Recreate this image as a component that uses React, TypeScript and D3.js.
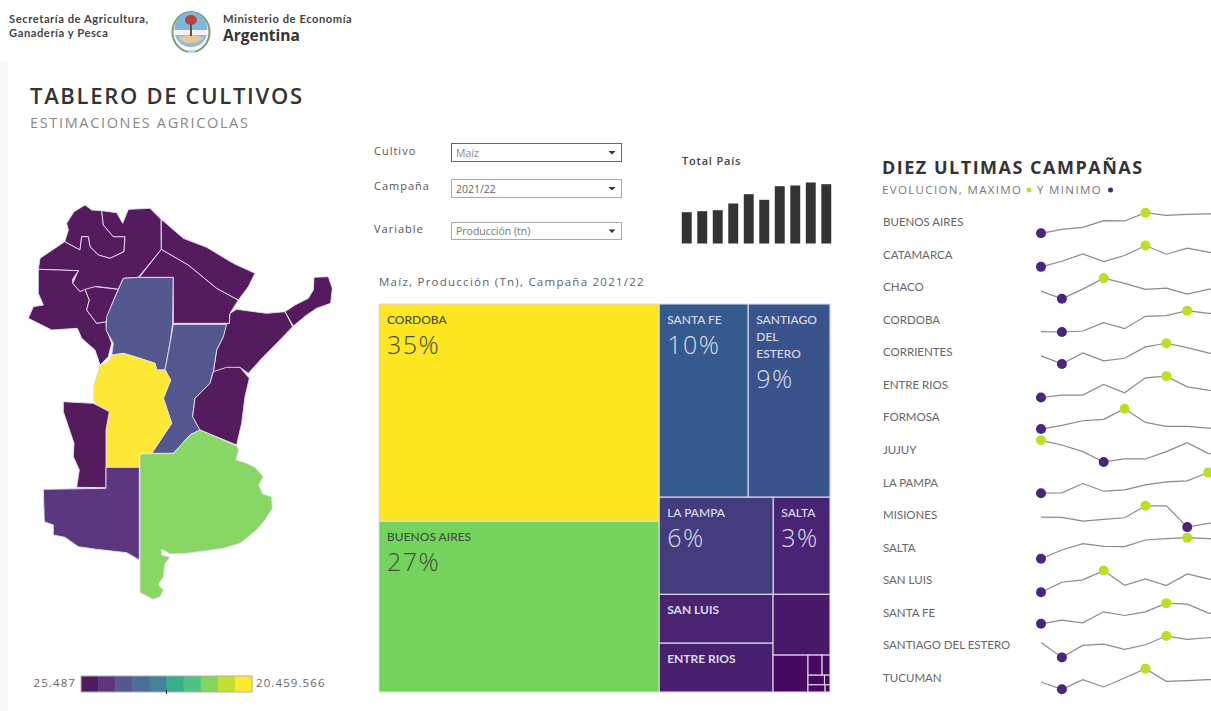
import React from "react";
import * as d3 from "d3";

// ---------- data ----------
const provinceNames = ["BUENOS AIRES","CATAMARCA","CHACO","CORDOBA","CORRIENTES","ENTRE RIOS","FORMOSA","JUJUY","LA PAMPA","MISIONES","SALTA","SAN LUIS","SANTA FE","SANTIAGO DEL ESTERO","TUCUMAN"];
const sparkBuenosAires = [6,18,24,44,43,68,60,63,64,64];
const sparkCatamarca = [3,20,42,19,37,67,41,59,47,42];
const sparkChaco = [28,5,34,67,51,33,37,19,33,41];
const sparkCordoba = [4,3,6,31,13,50,52,67,59,57];
const sparkCorrientes = [29,5,38,14,22,56,67,54,38,26];
const sparkEntreRios = [2,9,9,41,16,61,66,34,24,17];
const sparkFormosa = [5,16,30,34,66,25,13,13,8,7];
const sparkJujuy = [69,55,35,4,13,13,35,62,30,20];
const sparkLaPampa = [8,9,37,14,18,33,42,45,70,60];
const sparkMisiones = [34,33,22,27,32,68,68,4,15,20];
const sparkSalta = [7,33,52,44,43,63,67,70,67,67];
const sparkSanLuis = [4,34,41,69,25,44,24,59,44,36];
const sparkSantaFe = [7,18,10,43,32,43,69,66,40,30];
const sparkSantiago = [49,4,40,44,28,42,68,58,63,66];
const sparkTucuman = [28,6,35,13,40,68,30,32,35,37];
const sparkSeries = [sparkBuenosAires,sparkCatamarca,sparkChaco,sparkCordoba,sparkCorrientes,sparkEntreRios,sparkFormosa,sparkJujuy,sparkLaPampa,sparkMisiones,sparkSalta,sparkSanLuis,sparkSantaFe,sparkSantiago,sparkTucuman];

const totalPais = [31.3,32.3,33.3,40,49.3,43.7,57.3,58,61,59.3];

const legendColors = ["#4f1a5e","#5c357d","#565690","#4a6e97","#45829a","#38ae8f","#50c283","#84d45f","#bfe032","#fde92f"];

// map outlines, in map units
const mapProvinces: {name:string; color:string; pts:number[][]}[] = [
 {name:"Jujuy",color:"#541b5f",pts:[[255,45],[222,65],[200,100],[205,120],[194,155],[240,180],[245,140],[265,140],[270,170],[295,195],[330,205],[372,185],[375,140],[340,140],[310,105],[305,62],[275,60]]},
 {name:"Salta",color:"#541b5f",pts:[[305,62],[350,68],[368,100],[385,58],[450,55],[483,88],[484,178],[415,262],[370,265],[355,298],[320,293],[290,290],[262,298],[240,305],[218,280],[235,242],[115,238],[120,205],[194,155],[240,180],[245,140],[265,140],[270,170],[295,195],[330,205],[372,185],[375,140],[340,140],[310,105]]},
 {name:"Catamarca",color:"#541b5f",pts:[[115,238],[235,242],[218,268],[218,280],[240,305],[255,298],[268,330],[260,360],[290,400],[318,395],[320,420],[335,460],[325,500],[300,525],[285,480],[245,445],[232,415],[155,420],[85,385],[100,350],[130,345],[115,310]]},
 {name:"Tucuman",color:"#541b5f",pts:[[255,298],[285,290],[355,298],[335,345],[320,395],[290,400],[260,360],[268,330]]},
 {name:"Santiago",color:"#55578f",pts:[[370,265],[415,262],[520,262],[518,400],[510,460],[495,540],[470,540],[465,520],[420,505],[370,490],[335,495],[340,460],[318,420],[320,380],[335,345],[355,298]]},
 {name:"Chaco",color:"#541b5f",pts:[[484,178],[565,225],[650,295],[715,330],[690,370],[688,400],[520,400],[520,262],[418,262]]},
 {name:"Formosa",color:"#541b5f",pts:[[484,88],[550,145],[620,172],[700,220],[765,250],[745,290],[715,330],[650,295],[565,225],[484,178]]},
 {name:"Misiones",color:"#541b5f",pts:[[942,262],[985,260],[997,295],[992,340],[950,355],[920,375],[880,408],[855,365],[885,345],[925,325],[940,300]]},
 {name:"Corrientes",color:"#541b5f",pts:[[690,370],[710,358],[800,370],[855,365],[878,410],[830,460],[790,500],[745,550],[720,532],[640,545],[650,480],[670,440],[678,402],[688,400]]},
 {name:"Santa Fe",color:"#55578f",pts:[[520,403],[680,403],[670,440],[650,480],[640,545],[630,580],[585,625],[578,680],[600,720],[570,735],[520,790],[455,790],[515,700],[495,640],[490,625],[512,570],[495,540],[510,460]]},
 {name:"Entre Rios",color:"#541b5f",pts:[[640,545],[680,532],[720,532],[748,565],[735,620],[725,700],[710,765],[600,720],[578,680],[585,625],[630,580]]},
 {name:"Cordoba",color:"#fee836",pts:[[335,495],[370,490],[420,505],[465,520],[470,540],[495,540],[512,570],[490,625],[495,640],[515,700],[455,790],[420,790],[418,832],[318,832],[318,720],[328,665],[295,650],[280,630],[280,590],[300,525],[325,515]]},
 {name:"San Luis",color:"#541b5f",pts:[[190,635],[280,640],[328,665],[318,720],[318,893],[230,892],[238,840],[220,800],[222,760],[190,665]]},
 {name:"La Pampa",color:"#5a377f",pts:[[318,832],[418,832],[418,1110],[380,1088],[290,1078],[235,1070],[195,1042],[160,1035],[160,1005],[133,995],[130,898],[318,895]]},
 {name:"Buenos Aires",color:"#88d663",pts:[[420,792],[520,790],[570,735],[600,720],[710,768],[716,780],[708,810],[735,818],[765,832],[790,860],[776,885],[788,912],[815,920],[817,955],[795,990],[770,1020],[720,1060],[670,1075],[620,1082],[560,1090],[510,1092],[485,1078],[485,1095],[510,1102],[495,1120],[490,1160],[475,1185],[490,1200],[480,1220],[460,1228],[420,1208]]},
];

const treeData = {name:"root",dir:"h",children:[
  {name:"l",dir:"v",children:[{name:"CORDOBA",value:34.5,pct:"35%",fill:"#fee620",dark:true},{name:"BUENOS AIRES",value:27.1,pct:"27%",fill:"#73d35c",dark:true}]},
  {name:"r",dir:"v",children:[
    {name:"top",dir:"h",children:[{name:"SANTA FE",value:9.75,pct:"10%",fill:"#355a8d"},{name:"SANTIAGO\nDEL\nESTERO",value:8.95,pct:"9%",fill:"#39548c"}]},
    {name:"mid",dir:"h",children:[{name:"LA PAMPA",value:6.28,pct:"6%",fill:"#433d80"},{name:"SALTA",value:3.12,pct:"3%",fill:"#4a2474"}]},
    {name:"bot",dir:"h",children:[
      {name:"a",dir:"v",children:[{name:"SAN LUIS",value:3.15,fill:"#4a2272"},{name:"ENTRE RIOS",value:3.15,fill:"#49206f"}]},
      {name:"b",dir:"v",children:[
        {name:"",value:1.96,fill:"#471a69"},
        {name:"c",dir:"h",children:[
          {name:"",value:0.73,fill:"#45095f"},
          {name:"d",dir:"v",children:[
            {name:"e",dir:"h",children:[{name:"",value:0.16,fill:"#45095f"},{name:"",value:0.09,fill:"#45095f"}]},
            {name:"f",dir:"h",children:[{name:"",value:0.09,fill:"#45095f"},{name:"",value:0.03,fill:"#45095f"}]},
            {name:"g",dir:"h",children:[{name:"",value:0.07,fill:"#45095f"},{name:"",value:0.02,fill:"#45095f"}]},
          ]},
        ]},
      ]},
    ]},
  ]},
]};

// ---------- layout ----------
const sans = "'Open Sans', sans-serif";
const lato = "Lato, sans-serif";
const mapX = d3.scaleLinear().domain([0,3]).range([0,1]);
const mapY = d3.scaleLinear().domain([0,3]).range([190,191]);
const mapLine = d3.line<number[]>().x(d=>mapX(d[0])).y(d=>mapY(d[1])).curve(d3.curveLinearClosed);

const tile = (node:any,x0:number,y0:number,x1:number,y1:number)=>
  (node.data.dir==="h"?d3.treemapDice:d3.treemapSlice)(node,x0,y0,x1,y1);
const treeRoot = d3.treemap<any>().tile(tile as any).size([451,388]).round(false)(
  d3.hierarchy<any>(treeData).sum(d=>d.value||0)
);
const treeLeaves = treeRoot.leaves();

const barX = d3.scaleBand<number>().domain(d3.range(totalPais.length)).range([681,832]).paddingInner(0.36).paddingOuter(0.05);
const barY = d3.scaleLinear().domain([0,61]).range([243.5,182.5]);

const sparkX = d3.scaleLinear().domain([0,9]).range([1041,1229]);
const rowY = d3.scalePoint<string>().domain(provinceNames).range([222,678]);
const sparkLift = d3.scaleLinear().domain([0,40]).range([13.3,0]);

const legendX = d3.scaleBand<string>().domain(legendColors).range([81,252]);

const dropdowns = [
  {label:"Cultivo",value:"Maíz",y:143,h:19,dark:true,labelY:155,valueColor:"#888"},
  {label:"Campaña",value:"2021/22",y:179,h:19,dark:false,labelY:190,valueColor:"#666"},
  {label:"Variable",value:"Producción (tn)",y:222,h:18,dark:false,labelY:233,valueColor:"#777"},
];

export default function App(){
  return (
    <svg width={1211} height={711} style={{position:"absolute",left:0,top:0,background:"#fff"}}>
      <rect x={0} y={62} width={8} height={649} fill="#f8f8f8"/>
      {/* header */}
      <g fontFamily={lato} fill="#444" fontWeight={700} fontSize={11.2} letterSpacing={0.55}>
        <text x={9} y={23}>Secretaría de Agricultura,</text>
        <text x={9} y={37}>Ganadería y Pesca</text>
        <text x={223} y={23}>Ministerio de Economía</text>
      </g>
      <text x={223} y={41} fontFamily={sans} fontSize={15.5} fontWeight={700} fill="#333">Argentina</text>
      <g>
        <ellipse cx={191} cy={32} rx={18.5} ry={20} fill="#fff" stroke="#7d9a6b" strokeWidth={2}/>
        <path d="M174.5 30 A16.5 18 0 0 1 207.5 30 Z" fill="#7fb8dc"/>
        <rect x={175} y={30} width={32} height={5} fill="#f2f2f2"/>
        <path d="M175 35 H207 A16.5 16 0 0 1 175 35 Z" fill="#8fbfdc"/>
        <path d="M178 38 L190 34 L204 38 L196 43 L186 43 Z" fill="#e5c79a"/>
        <ellipse cx={191} cy={20} rx={6} ry={5} fill="#b5443a"/>
        <rect x={190} y={24} width={2} height={12} fill="#7a4a36"/>
        <rect x={188} y={50} width={7} height={3} fill="#b8d4e8"/>
      </g>
      <text x={30} y={104} fontFamily={sans} fontSize={22} fontWeight={600} fill="#333" letterSpacing={1.7}>TABLERO DE CULTIVOS</text>
      <text x={30} y={128} fontFamily={sans} fontSize={14.5} fill="#888" letterSpacing={1.65}>ESTIMACIONES AGRICOLAS</text>

      {/* map */}
      <g stroke="#e6dff0" strokeWidth={0.9} strokeLinejoin="round">
        {mapProvinces.map(p=><path key={p.name} d={mapLine(p.pts)!} fill={p.color}/>)}
      </g>

      {/* legend */}
      <text x={76} y={687} textAnchor="end" fontFamily={sans} fontSize={11.5} fill="#666" letterSpacing={1.1}>25.487</text>
      <g>
        {legendColors.map(c=><rect key={c} x={legendX(c)} y={676} width={legendX.bandwidth()+0.5} height={16} fill={c}/>)}
        <rect x={81} y={676} width={171} height={16} fill="none" stroke="#b5b0a5" strokeWidth={1}/>
        <line x1={166.5} x2={166.5} y1={690} y2={694} stroke="#222" strokeWidth={1}/>
      </g>
      <text x={256} y={687} fontFamily={sans} fontSize={11.5} fill="#666" letterSpacing={1.1}>20.459.566</text>

      {/* filters */}
      {dropdowns.map(d=>(
        <g key={d.label} fontFamily={sans} fontSize={11}>
          <text x={374} y={d.labelY} fill="#555" letterSpacing={1}>{d.label}</text>
          <rect x={451.5} y={d.y+0.5} width={170} height={d.h-1} fill="#fff" stroke={d.dark?"#666":"#aaa"} strokeWidth={1}/>
          <text x={456} y={d.y+d.h/2+4} fill={d.valueColor} fontSize={10.5}>{d.value}</text>
          <path d={d3.line()([[608.5,d.y+d.h/2-1.5],[615.5,d.y+d.h/2-1.5],[612,d.y+d.h/2+2]])!+"Z"} fill="#333"/>
        </g>
      ))}

      {/* total pais */}
      <text x={682} y={165} fontFamily={sans} fontSize={11} fontWeight={600} fill="#444" letterSpacing={0.8}>Total País</text>
      {totalPais.map((v,i)=>(
        <rect key={i} x={barX(i)} y={barY(v)} width={barX.bandwidth()} height={barY(0)-barY(v)} fill="#333"/>
      ))}

      {/* treemap */}
      <text x={379} y={286} fontFamily={sans} fontSize={11.5} fill="#5a5f6a" letterSpacing={1.25}>Maíz, Producción (Tn), Campaña 2021/22</text>
      <g transform="translate(379,304)">
        {treeLeaves.map((n:any,i:number)=>{
          const lines = String(n.data.name).split("\n").filter(Boolean);
          const fg = n.data.dark?"#44503c":"#dcdde6";
          const tx = n.x0+8;
          return (
            <g key={i}>
              <rect x={n.x0} y={n.y0} width={n.x1-n.x0} height={n.y1-n.y0} fill={n.data.fill} stroke="#ded9e6" strokeWidth={1.1}/>
              {lines.map((l,j)=>(
                <text key={j} x={tx} y={n.y0+20+j*17} fontFamily={lato} fontSize={12} fontWeight={lines.length>1||n.data.pct?500:700} fill={fg}>{l}</text>
              ))}
              {n.data.pct && <text x={tx} y={n.y0+20+(lines.length-1)*17+30} fontFamily={sans} fontSize={25} fontWeight={300} letterSpacing={1.5} fill={fg}>{n.data.pct}</text>}
            </g>
          );
        })}
      </g>

      {/* sparklines */}
      <text x={882} y={174} fontFamily={sans} fontSize={18} fontWeight={700} fill="#333" letterSpacing={1.5}>DIEZ ULTIMAS CAMPAÑAS</text>
      <text x={882} y={194} fontFamily={sans} fontSize={11.5} fill="#777" letterSpacing={1.35}>EVOLUCION, MAXIMO</text>
      <circle cx={1029} cy={190} r={2.5} fill="#bbe01f"/>
      <text x={1037} y={194} fontFamily={sans} fontSize={11.5} fill="#777" letterSpacing={1.35}>Y MINIMO</text>
      <circle cx={1110.5} cy={190} r={2.5} fill="#4a2580"/>
      {provinceNames.map((name,i)=>{
        const vals = sparkSeries[i];
        const cy = rowY(name)!;
        const yOf = (v:number)=>cy+sparkLift(0)-v/3;
        const line = d3.line<number>().x((_,k)=>sparkX(k)).y(v=>yOf(v));
        const maxI = d3.maxIndex(vals), minI = d3.minIndex(vals);
        return (
          <g key={name}>
            <text x={883} y={cy+4} fontFamily={lato} fontSize={11.5} fill="#666">{name}</text>
            <path d={line(vals)!} fill="none" stroke="#8a8a8a" strokeWidth={1.2}/>
            <circle cx={sparkX(maxI)} cy={yOf(vals[maxI])} r={5} fill="#bbe01f"/>
            <circle cx={sparkX(minI)} cy={yOf(vals[minI])} r={5} fill="#4a2580"/>
          </g>
        );
      })}
    </svg>
  );
}
